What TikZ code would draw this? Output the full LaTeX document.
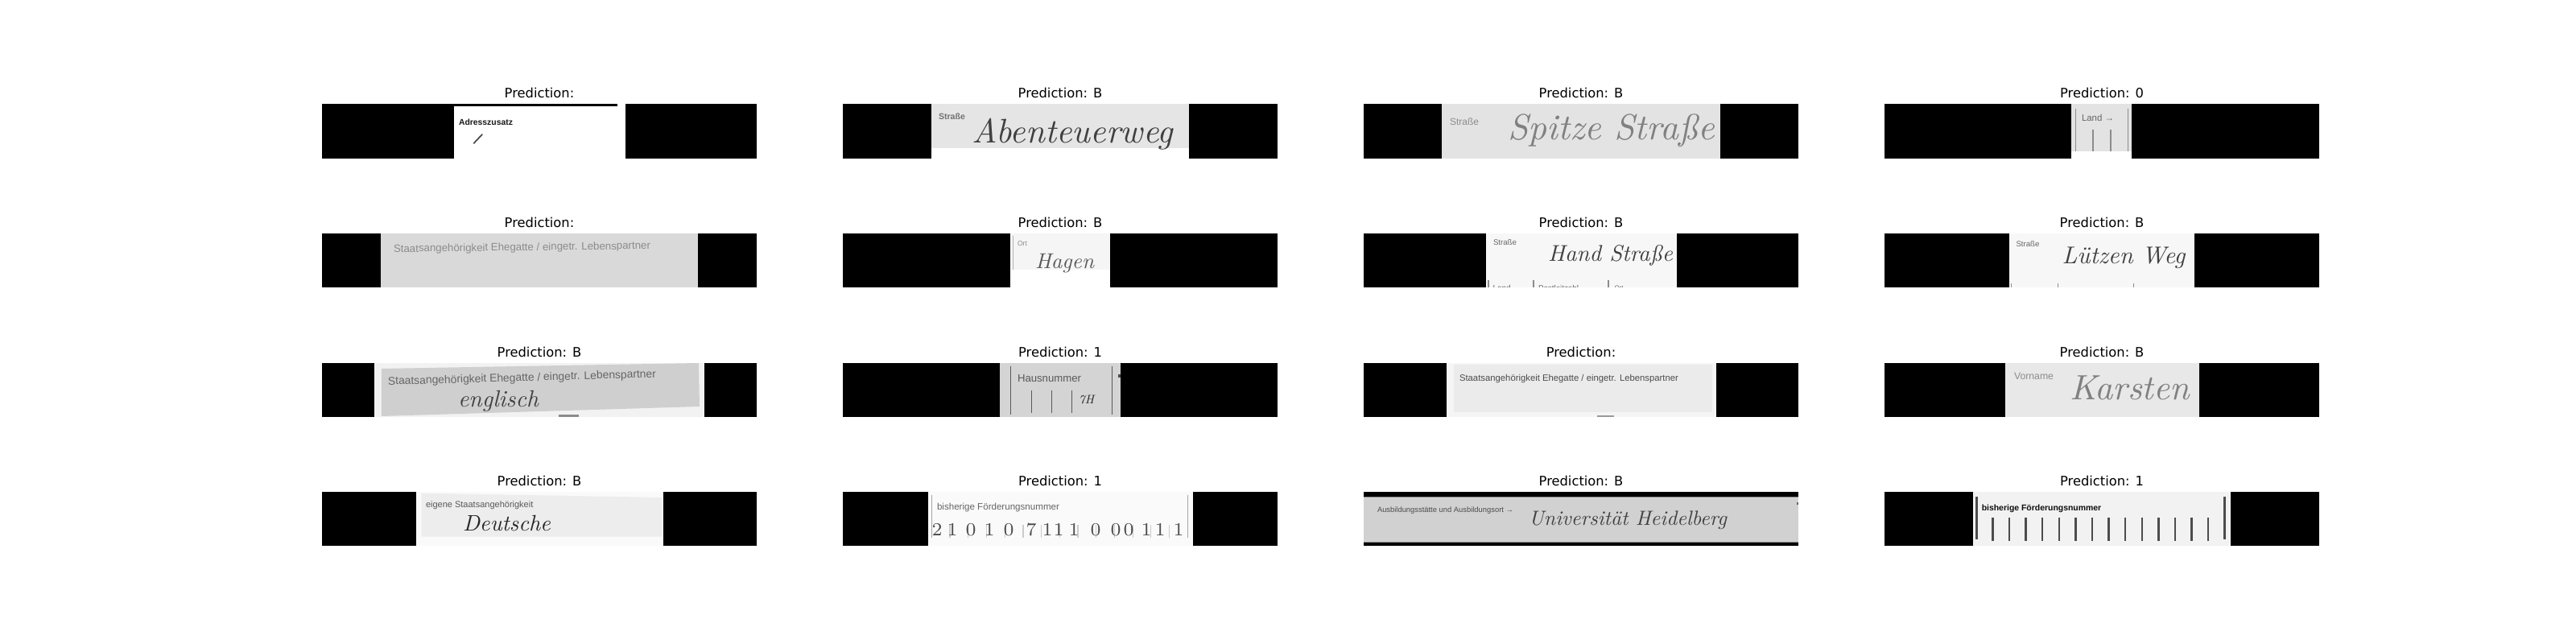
\documentclass[tikz,border=0pt]{standalone}
\usepackage{fontspec}
\usepackage{graphicx}
\usepackage{xcolor}
\usepackage{tikz}
\usetikzlibrary{positioning}
\newfontfamily\titlefont{DejaVu Sans}
\newfontfamily\formfont{Liberation Sans}
\newcommand{\fitw}[2]{\resizebox{#1cm}{!}{#2}}

\tikzset{
  blackbar/.style={rectangle, fill=black, inner sep=0pt, outer sep=0pt,
    minimum width=5.4cm, minimum height=0.675cm},
  predlabel/.style={inner sep=0pt, outer sep=0pt, above=0.075cm of #1,
    font=\titlefont\fontsize{4.64}{5}\selectfont},
  formlabel/.style={inner sep=0pt, outer sep=0pt, font=\formfont, text=black!45},
  handtext/.style={inner sep=0pt, outer sep=0pt, font=\itshape, text=black!75},
  printline/.style={draw=black!45, line width=0.35pt},
  inkline/.style={draw=black!70, line width=0.5pt, line cap=round}
}

\begin{document}
\begin{tikzpicture}

    \useasboundingbox (0,0) rectangle (32,8);
    \fill[white] (0,0) rectangle (32,8);

    %row 1, column 1
    \node[blackbar] (bar11) at (6.70,6.37) {};
    \node[predlabel=bar11] (pred11) {Prediction:~};
    \fill[white] (5.637,6.71) rectangle (7.77,6.03);
    \fill[black] (5.637,6.71) rectangle (7.665,6.675);
    \node[formlabel, text=black!90] (form11) at (6.035,6.483) {\fitw{0.67}{\textbf{Adresszusatz}}};
    \draw[inkline] (5.886,6.22) -- (5.99,6.33);

    %row 1, column 2
    \node[blackbar] (bar12) at (13.17,6.37) {};
    \node[predlabel=bar12] (pred12) {Prediction: B};
    \fill[white] (11.574,6.71) rectangle (14.77,6.03);
    \fill[black!10] (11.574,6.71) rectangle (14.77,6.16);
    \node[formlabel, text=black!55] (form12) at (11.825,6.55) {\fitw{0.33}{\textbf{Straße}}};
    \node[handtext] (hand12) at (13.325,6.33) {\fitw{2.49}{Abenteuerweg}};

    %row 1, column 3
    \node[blackbar] (bar13) at (19.64,6.37) {};
    \node[predlabel=bar13] (pred13) {Prediction: B};
    \fill[black!11] (17.906,6.71) rectangle (21.37,6.03);
    \node[formlabel] (form13) at (18.19,6.49) {\fitw{0.36}{Straße}};
    \node[handtext, text=black!50] (hand13) at (20.015,6.38) {\fitw{2.57}{Spitze Straße}};

    %row 1, column 4
    \node[blackbar] (bar14) at (26.11,6.37) {};
    \node[predlabel=bar14] (pred14) {Prediction: 0};
    \fill[white] (25.734,6.71) rectangle (26.484,6.03);
    \fill[black!11] (25.734,6.71) rectangle (26.484,6.12);
    \node[formlabel, text=black!60] (form14) at (26.06,6.54) {\fitw{0.40}{Land →}};
    \foreach \xl in {25.788,26.438} \draw[printline] (\xl,6.65) -- (\xl,6.12);
    \foreach \xl in {26.00,26.22} \draw[printline] (\xl,6.39) -- (\xl,6.12);

    %row 2, column 1
    \node[blackbar] (bar21) at (6.70,4.765) {};
    \node[predlabel=bar21] (pred21) {Prediction:~};
    \fill[black!15] (4.734,5.10) rectangle (8.67,4.43);
    \node[formlabel, rotate=0.7] (form21) at (6.485,4.92) {\fitw{3.19}{Staatsangehörigkeit Ehegatte / eingetr. Lebenspartner}};

    %row 2, column 2
    \node[blackbar] (bar22) at (13.17,4.765) {};
    \node[predlabel=bar22] (pred22) {Prediction: B};
    \fill[white] (12.546,5.10) rectangle (13.79,4.43);
    \fill[black!4] (12.546,5.10) rectangle (13.79,4.65);
    \draw[printline, draw=black!30] (12.585,5.07) -- (12.585,4.65);
    \node[formlabel] (form22) at (12.70,4.97) {\fitw{0.12}{Ort}};
    \node[handtext, text=black!65] (hand22) at (13.225,4.73) {\fitw{0.73}{Hagen}};

    %row 2, column 3
    \node[blackbar] (bar23) at (19.64,4.765) {};
    \node[predlabel=bar23] (pred23) {Prediction: B};
    \fill[black!3] (18.457,5.10) rectangle (20.826,4.43);
    \node[formlabel, text=black!60] (form23) at (18.695,4.99) {\fitw{0.29}{Straße}};
    \node[handtext] (hand23) at (20.005,4.83) {\fitw{1.55}{Hand Straße}};
    \foreach \xl in {18.49,19.05,19.98} \draw[printline] (\xl,4.52) -- (\xl,4.43);
    \begin{scope}
        \clip (18.457,5.10) rectangle (20.826,4.43);
        \node[formlabel, text=black!60] (land23) at (18.72,4.42) {\fitw{0.35}{Land →}};
        \node[formlabel, text=black!60] (plz23) at (19.36,4.42) {\fitw{0.50}{Postleitzahl}};
        \node[formlabel, text=black!60] (ort23) at (20.11,4.42) {\fitw{0.11}{Ort}};
    \end{scope}

    %row 2, column 4
    \node[blackbar] (bar24) at (26.11,4.765) {};
    \node[predlabel=bar24] (pred24) {Prediction: B};
    \fill[black!3] (24.96,5.10) rectangle (27.257,4.43);
    \node[formlabel, text=black!60] (form24) at (25.19,4.97) {\fitw{0.29}{Straße}};
    \node[handtext] (hand24) at (26.38,4.80) {\fitw{1.53}{Lützen Weg}};
    \foreach \xl in {24.988,25.566,26.507} \draw[printline] (\xl,4.48) -- (\xl,4.43);

    %row 3, column 1
    \node[blackbar] (bar31) at (6.70,3.155) {};
    \node[predlabel=bar31] (pred31) {Prediction: B};
    \fill[black!5] (4.65,3.49) rectangle (8.75,2.82);
    \fill[black!19] (4.738,3.42) -- (8.68,3.49) -- (8.69,2.95) -- (4.738,2.83) -- cycle;
    \node[formlabel, rotate=1.6, text=black!60] (form31) at (6.485,3.30) {\fitw{3.33}{Staatsangehörigkeit Ehegatte / eingetr. Lebenspartner}};
    \node[handtext] (hand31) at (6.19,3.02) {\fitw{1.0}{englisch}};
    \fill[black!45] (6.94,2.85) rectangle (7.19,2.82);

    %row 3, column 2
    \node[blackbar] (bar32) at (13.17,3.155) {};
    \node[predlabel=bar32] (pred32) {Prediction: 1};
    \fill[black!17] (12.424,3.49) rectangle (13.916,2.82);
    \node[formlabel, text=black!65] (form32) at (13.035,3.30) {\fitw{0.79}{Hausnummer}};
    \foreach \xl in {12.558,13.813} \draw[printline, draw=black!65] (\xl,3.45) -- (\xl,2.85);
    \foreach \xl in {12.814,13.063,13.316} \draw[printline, draw=black!65] (\xl,3.15) -- (\xl,2.87);
    \node[handtext, text=black!85] (hand32) at (13.495,3.03) {\fitw{0.19}{7H}};
    \fill[black!70] (13.89,3.31) rectangle (13.916,3.35);

    %row 3, column 3
    \node[blackbar] (bar33) at (19.64,3.155) {};
    \node[predlabel=bar33] (pred33) {Prediction:~};
    \fill[black!4] (17.967,3.49) rectangle (21.316,2.82);
    \fill[black!8] (18.06,3.47) rectangle (21.27,2.88);
    \node[formlabel, text=black!70] (form33) at (19.49,3.293) {\fitw{2.72}{Staatsangehörigkeit Ehegatte / eingetr. Lebenspartner}};
    \fill[black!40] (19.84,2.84) rectangle (20.05,2.82);

    %row 3, column 4
    \node[blackbar] (bar34) at (26.11,3.155) {};
    \node[predlabel=bar34] (pred34) {Prediction: B};
    \fill[black!9] (24.907,3.49) rectangle (27.318,2.82);
    \node[formlabel] (form34) at (25.265,3.323) {\fitw{0.49}{Vorname}};
    \node[handtext, text=black!50] (hand34) at (26.455,3.18) {\fitw{1.49}{Karsten}};

    %row 4, column 1
    \node[blackbar] (bar41) at (6.70,1.555) {};
    \node[predlabel=bar41] (pred41) {Prediction: B};
    \fill[black!2] (5.166,1.89) rectangle (8.24,1.22);
    \fill[black!7] (5.235,1.873) -- (8.22,1.82) -- (8.22,1.333) -- (5.235,1.333) -- cycle;
    \node[formlabel, text=black!65] (form41) at (5.957,1.72) {\fitw{1.334}{eigene Staatsangehörigkeit}};
    \node[handtext, text=black!85] (hand41) at (6.295,1.50) {\fitw{1.09}{Deutsche}};

    %row 4, column 2
    \node[blackbar] (bar42) at (13.17,1.555) {};
    \node[predlabel=bar42] (pred42) {Prediction: 1};
    \fill[black!2] (11.528,1.89) rectangle (14.816,1.22);
    \node[formlabel, text=black!60] (form42) at (12.40,1.69) {\fitw{1.52}{bisherige Förderungsnummer}};
    \foreach \xl in {11.574,14.755} \draw[printline, draw=black!35] (\xl,1.85) -- (\xl,1.32);
    \foreach \i in {1,...,13} \draw[printline, draw=black!20] (11.574+0.227*\i,1.48) -- (11.574+0.227*\i,1.32);
    \foreach \xd/\dg [count=\n] in {11.64/2,11.83/1,12.06/0,12.29/1,12.53/0,12.81/7,13.01/1,13.15/1,13.34/1,13.61/0,13.86/0,14.02/0,14.24/1,14.41/1,14.64/1}
        \node[handtext, font=\fontsize{6.5}{7}\selectfont, text=black!70] (digit\n) at (\xd,1.42) {\dg};

    %row 4, column 3
    \node[blackbar] (bar43) at (19.64,1.555) {};
    \node[predlabel=bar43] (pred43) {Prediction: B};
    \fill[black!18] (16.94,1.827) rectangle (22.34,1.267);
    \draw[printline] (16.94,1.827) -- (22.34,1.827);
    \draw[printline] (16.94,1.267) -- (22.34,1.267);
    \node[formlabel, text=black!70] (form43) at (17.955,1.66) {\fitw{1.69}{Ausbildungsstätte und Ausbildungsort →}};
    \node[handtext] (hand43) at (20.22,1.533) {\fitw{2.46}{Universität Heidelberg}};
    \fill[black!60] (22.32,1.73) rectangle (22.34,1.76);

    %row 4, column 4
    \node[blackbar] (bar44) at (26.11,1.555) {};
    \node[predlabel=bar44] (pred44) {Prediction: 1};
    \fill[black!5] (24.505,1.89) rectangle (27.709,1.22);
    \node[formlabel, text=black!95] (form44) at (25.36,1.683) {\fitw{1.485}{\textbf{bisherige Förderungsnummer}}};
    \foreach \xl in {24.555,27.636} \draw[printline, draw=black!70, line width=0.7pt] (\xl,1.83) -- (\xl,1.30);
    \foreach \i in {0,...,13} \draw[printline, draw=black!70, line width=0.7pt] (24.754+0.206*\i,1.57) -- (24.754+0.206*\i,1.28);

\end{tikzpicture}
\end{document}
